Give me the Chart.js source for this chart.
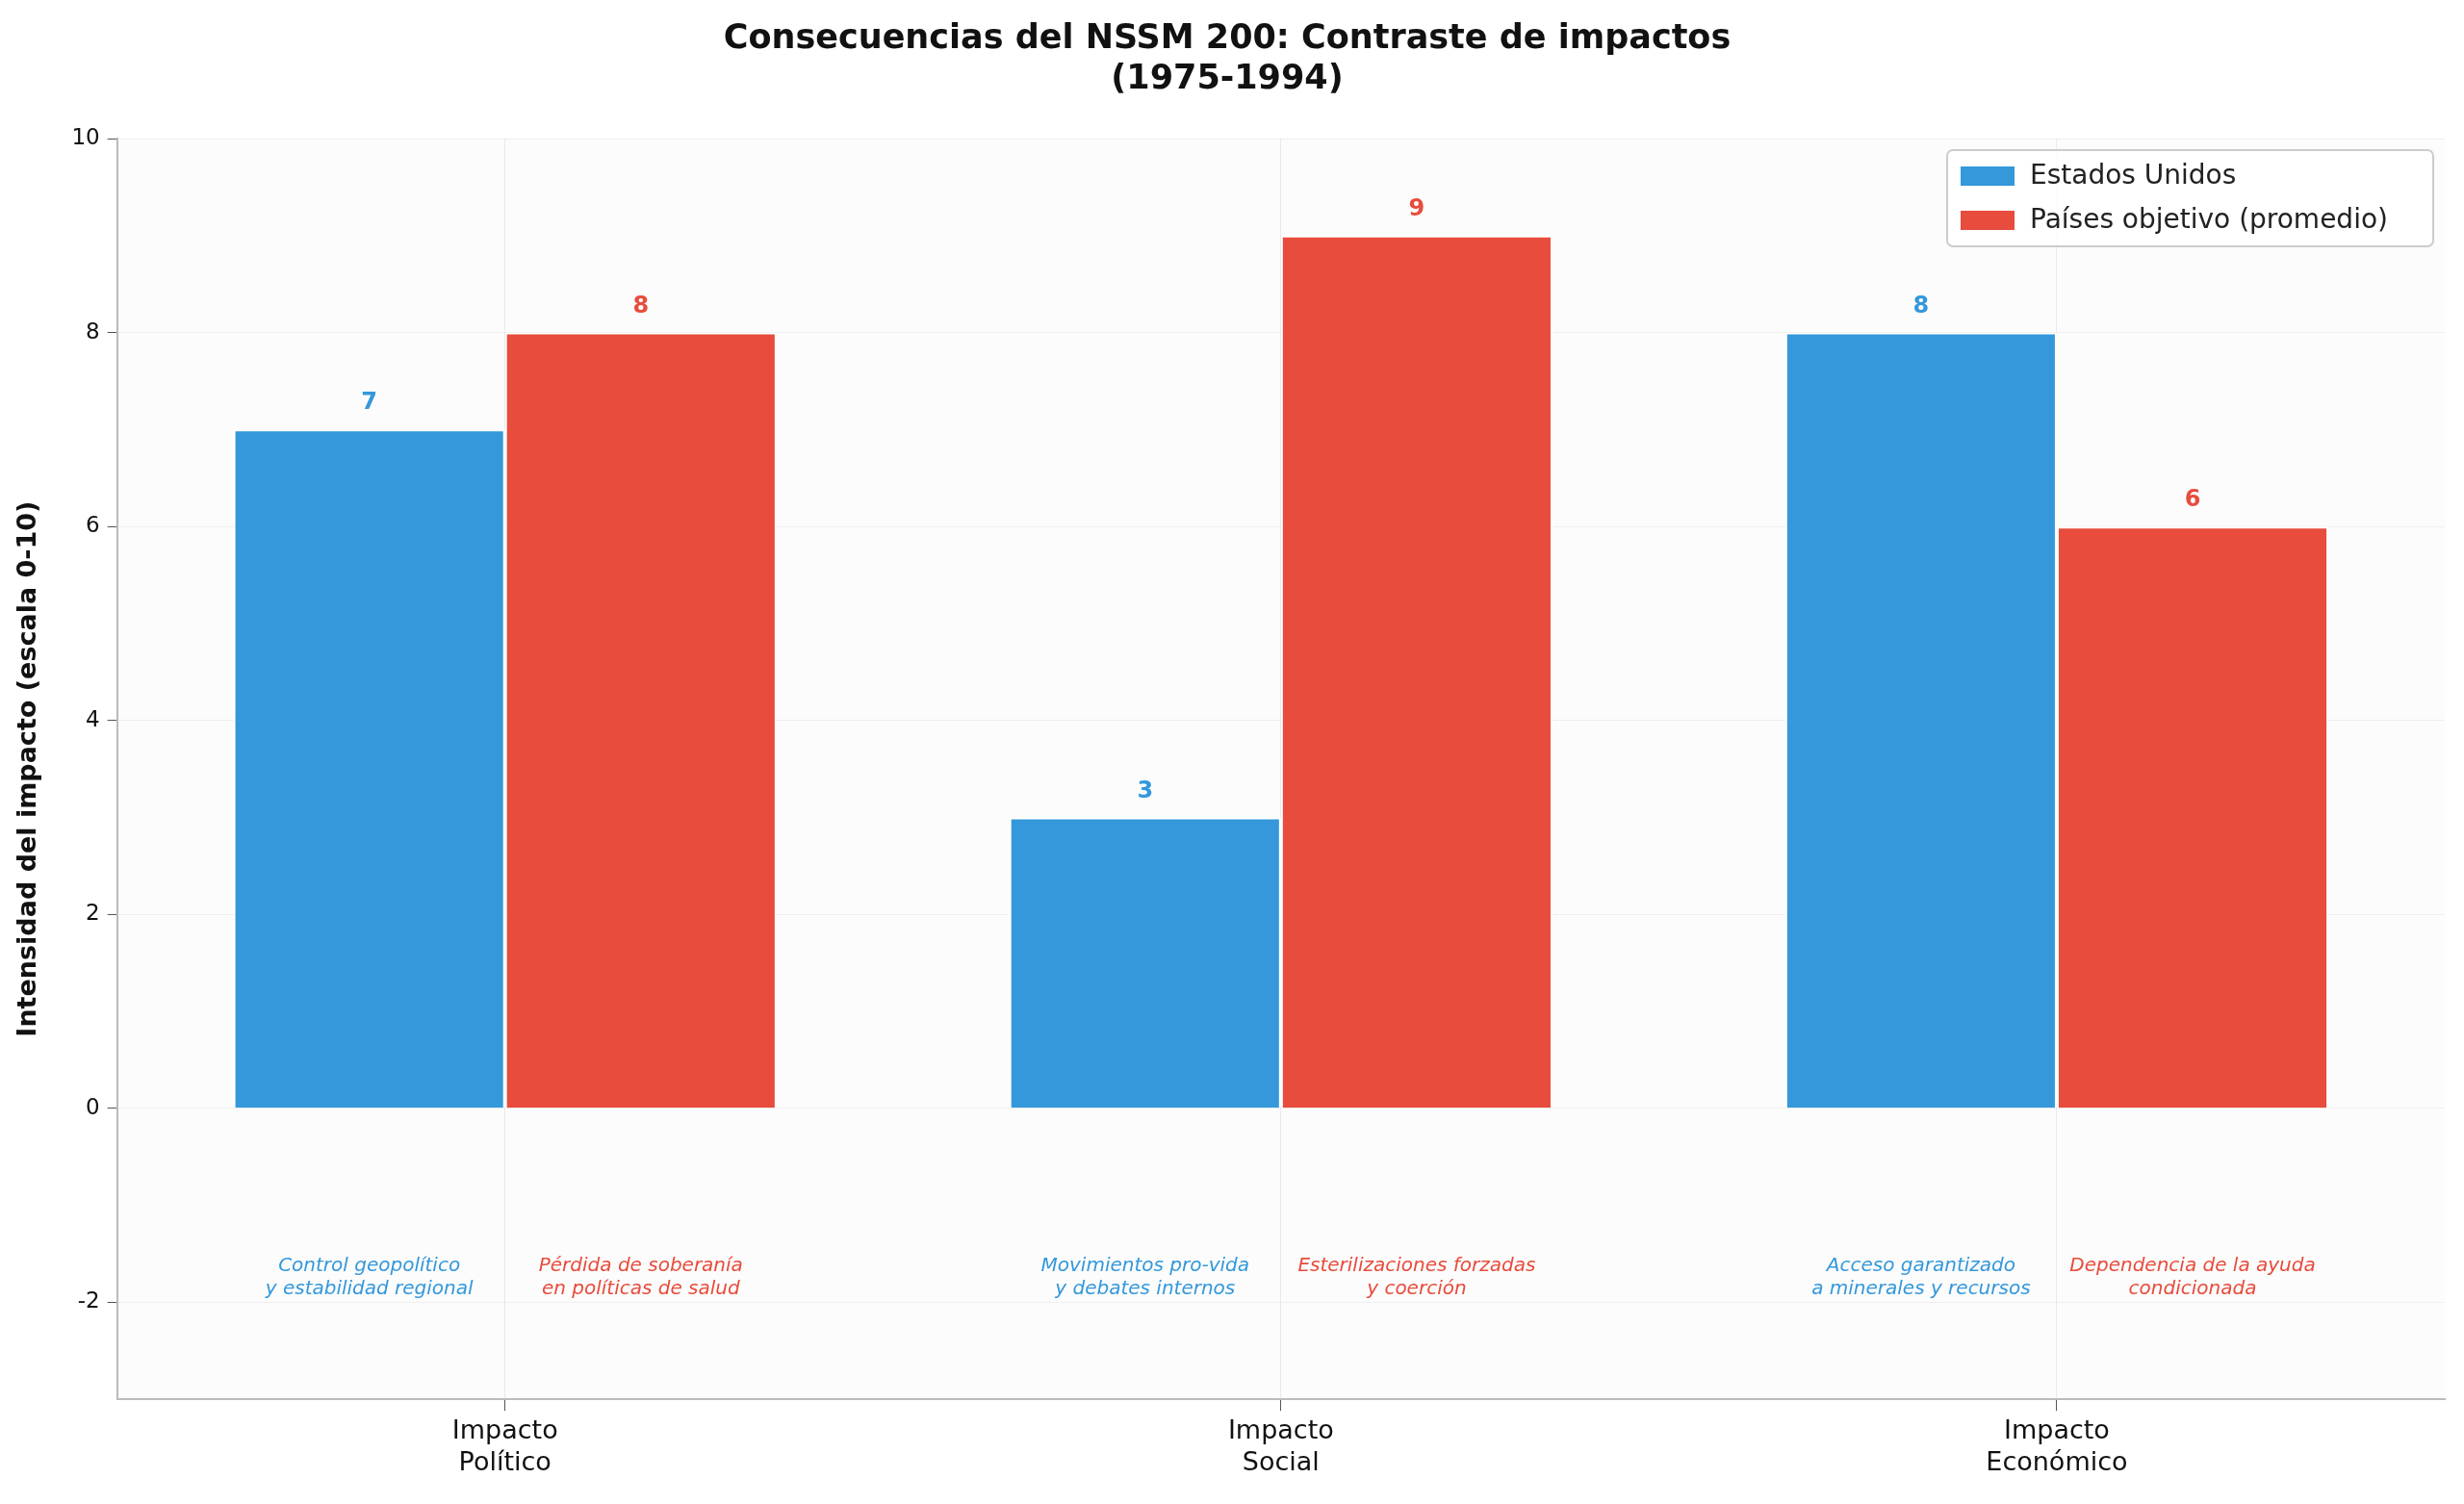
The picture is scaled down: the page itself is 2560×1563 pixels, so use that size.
<!DOCTYPE html>
<html>
<head>
<meta charset="utf-8">
<script src="https://cdn.jsdelivr.net/npm/chart.js@4"></script>
<style>
  html, body { margin: 0; padding: 0; background: #fff; }
  #wrap { width: 2560px; height: 1563px; }
</style>
</head>
<body>
<div id="wrap"><canvas id="chart" width="2560" height="1563"></canvas></div>
<script>
const categories = [['Impacto', 'Político'], ['Impacto', 'Social'], ['Impacto', 'Económico']];
const usaValues = [7, 3, 8];
const targetValues = [8, 9, 6];
const usaNotes = [['Control geopolítico', 'y estabilidad regional'], ['Movimientos pro-vida', 'y debates internos'], ['Acceso garantizado', 'a minerales y recursos']];
const targetNotes = [['Pérdida de soberanía', 'en políticas de salud'], ['Esterilizaciones forzadas', 'y coerción'], ['Dependencia de la ayuda', 'condicionada']];
const yTicks = [-2, 0, 2, 4, 6, 8, 10];
const seriesNames = ['Estados Unidos', 'Países objetivo (promedio)'];

const blue = '#3498db';
const red = '#e74c3c';

// value labels, notes under the bars and the legend inside the plot
const extras = {
    id: 'extras',
    beforeDraw(chart) {
        const a = chart.chartArea, c = chart.ctx;
        c.save();
        c.fillStyle = '#fcfcfc';
        c.fillRect(a.left, a.top, a.right - a.left, a.bottom - a.top);
        c.restore();
    },
    afterDatasetsDraw(chart) {
        const c = chart.ctx;
        const y = chart.scales.y;
        const notes = [usaNotes, targetNotes];
        const colors = [blue, red];
        c.save();
        chart.data.datasets.forEach((ds, di) => {
            chart.getDatasetMeta(di).data.forEach((bar, i) => {
                c.fillStyle = colors[di];
                c.textAlign = 'center';
                c.textBaseline = 'bottom';
                c.font = 'bold 24px "DejaVu Sans"';
                c.fillText(ds.data[i], bar.x, y.getPixelForValue(ds.data[i] + 0.15));
                c.font = 'italic 20px "DejaVu Sans"';
                c.textBaseline = 'middle';
                const ny = y.getPixelForValue(-1.75);
                c.fillText(notes[di][i][0], bar.x, ny - 12);
                c.fillText(notes[di][i][1], bar.x, ny + 12);
            });
        });
        // legend
        const a = chart.chartArea;
        const w = 505, h = 100, lx = a.right - w - 12, ly = a.top + 12;
        c.fillStyle = 'rgba(255,255,255,0.85)';
        c.strokeStyle = '#cccccc';
        c.lineWidth = 2;
        c.beginPath();
        c.roundRect(lx, ly, w, h, 6);
        c.fill();
        c.stroke();
        c.font = '28px "DejaVu Sans"';
        c.textAlign = 'left';
        c.textBaseline = 'middle';
        seriesNames.forEach((n, i) => {
            const ry = ly + 27 + i * 46;
            c.fillStyle = colors[i];
            c.fillRect(lx + 14, ry - 10, 56, 20);
            c.fillStyle = '#222';
            c.fillText(n, lx + 86, ry + 1);
        });
        c.restore();
    }
};

new Chart('chart', {
    type: 'bar',
    data: {
        labels: categories,
        datasets: [
            { label: seriesNames[0], data: usaValues, backgroundColor: blue, borderColor: '#ffffff', borderWidth: 2 },
            { label: seriesNames[1], data: targetValues, backgroundColor: red, borderColor: '#ffffff', borderWidth: 2 }
        ]
    },
    options: {
        responsive: false,
        animation: false,
        devicePixelRatio: 1,
        layout: { padding: { top: 20, right: 20, left: 10, bottom: 20 } },
        datasets: { bar: { barPercentage: 1, categoryPercentage: 0.7 } },
        plugins: {
            legend: { display: false },
            tooltip: { enabled: false },
            title: {
                display: true,
                text: ['Consecuencias del NSSM 200: Contraste de impactos', '(1975-1994)'],
                color: '#111',
                font: { family: '"DejaVu Sans"', size: 35, weight: 'bold', lineHeight: 1.2 },
                padding: { top: 0, bottom: 40 }
            }
        },
        scales: {
            x: {
                grid: { color: 'rgba(0,0,0,0.07)', offset: false, drawTicks: true, tickLength: 12, tickColor: '#555' },
                border: { color: '#bbbbbb', width: 2 },
                ticks: { color: '#111', font: { family: '"DejaVu Sans"', size: 27 }, padding: 6 }
            },
            y: {
                min: -3,
                max: 10,
                afterBuildTicks: (s) => { s.ticks = yTicks.map(v => ({ value: v })); },
                grid: { color: 'rgba(0,0,0,0.05)', tickLength: 10, tickColor: '#555' },
                border: { color: '#bbbbbb', width: 2 },
                ticks: { color: '#111', font: { family: '"DejaVu Sans"', size: 23 }, padding: 8 },
                title: {
                    display: true,
                    text: 'Intensidad del impacto (escala 0-10)',
                    color: '#111',
                    font: { family: '"DejaVu Sans"', size: 27, weight: 'bold' },
                    padding: { bottom: 20 }
                }
            }
        }
    },
    plugins: [extras]
});
</script>
</body>
</html>
